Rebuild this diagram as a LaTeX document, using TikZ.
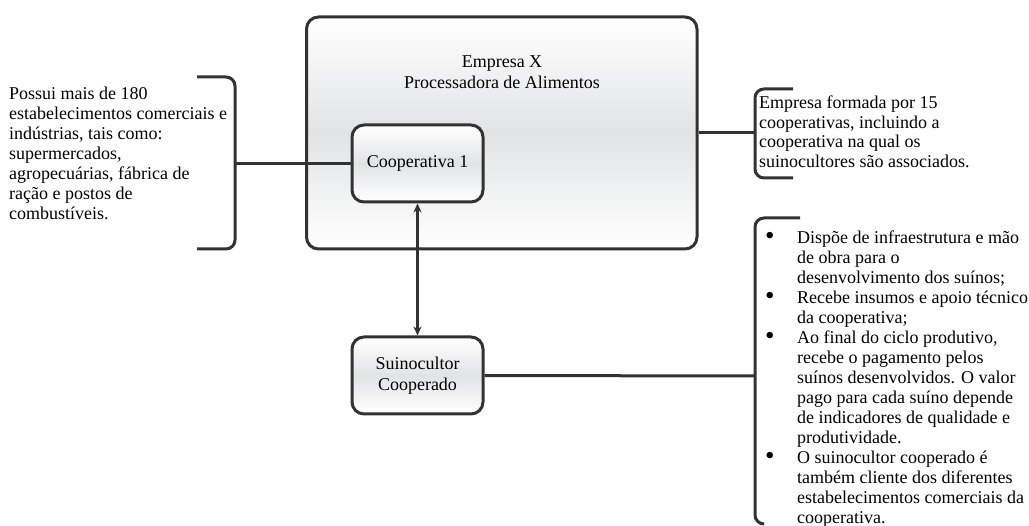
\documentclass[tikz,border=0pt]{standalone}
\usepackage{fontspec}
\setmainfont{Liberation Serif}
\usetikzlibrary{arrows.meta}
\definecolor{edge}{RGB}{50,50,50}
\definecolor{midgray}{RGB}{226,227,229}
\newcommand{\bulitem}{\makebox[32pt][l]{\raisebox{-1.5pt}{\scalebox{1.5}{•}}}}
\newcommand{\contitem}{\hspace*{32pt}}
\begin{document}
\begin{tikzpicture}[x=1pt,y=-1pt,
  box/.style={draw=edge, line width=3pt, rounded corners=12pt, top color=white, bottom color=white, middle color=midgray, inner sep=0pt, align=center, font=\fontsize{18}{20.5}\selectfont},
  conn/.style={draw=edge, line width=3pt},
  brk/.style={draw=edge, line width=3pt, rounded corners=9pt},
  txt/.style={font=\fontsize{18}{19.5}\selectfont, align=left, inner sep=0pt},
  bul/.style={font=\fontsize{18}{20}\selectfont, align=left, inner sep=0pt},
]
\useasboundingbox (0,0) rectangle (1029,526);

% main boxes
\node[box, minimum width=390.5pt, minimum height=232pt] (emp) at (501.75,133) {};
\node[txt, align=center, font=\fontsize{18}{21}\selectfont] (title) at (502,72) {Empresa X\\Processadora de Alimentos};
\node[box, minimum width=131pt, minimum height=77pt] (coop) at (417.5,163.5) {Cooperativa 1};
\node[box, minimum width=131pt, minimum height=77pt] (suino) at (417.5,375.5) {Suinocultor\\Cooperado};

% arrow
\draw[draw=edge, line width=2.5pt, {Stealth[length=9pt,width=8pt]}-{Stealth[length=9pt,width=8pt]}] (coop.south) -- (suino.north);

% left text + brace
\node[bul, anchor=west] (lt) at (9,153) {Possui mais de 180\\estabelecimentos comerciais e\\indústrias, tais como:\\supermercados,\\agropecuárias, fábrica de\\ração e postos de\\combustíveis.};
\coordinate (lb) at (235,163.5);
\draw[brk] (197,77) -- (235,77) -- (235,249) -- (197,249);
\draw[conn] (lb) -- (coop.west);

% top right text + bracket
\node[txt, anchor=west] (rt) at (759,132) {Empresa formada por 15\\cooperativas, incluindo a\\cooperativa na qual os\\suinocultores são associados.};
\coordinate (rb) at (755,133);
\draw[brk] (793,89) -- (755,89) -- (755,178) -- (793,178);
\draw[conn] (emp.east) -- (rb);

% bottom right list + bracket
\node[bul, anchor=west] (bl) at (765,379) {%
\bulitem Dispõe de infraestrutura e mão\\
\contitem de obra para o\\
\contitem desenvolvimento dos suínos;\\
\bulitem Recebe insumos e apoio técnico\\
\contitem da cooperativa;\\
\bulitem Ao final do ciclo produtivo,\\
\contitem recebe o pagamento pelos\\
\contitem suínos desenvolvidos. O valor\\
\contitem pago para cada suíno depende\\
\contitem de indicadores de qualidade e\\
\contitem produtividade.\\
\bulitem O suinocultor cooperado é\\
\contitem também cliente dos diferentes\\
\contitem estabelecimentos comerciais da\\
\contitem cooperativa.};
\coordinate (bb) at (755,376);
\draw[brk] (800,218) -- (755,218) -- (755,524) -- (763,524);
\draw[conn] (suino.east) -- (bb);
\end{tikzpicture}
\end{document}
